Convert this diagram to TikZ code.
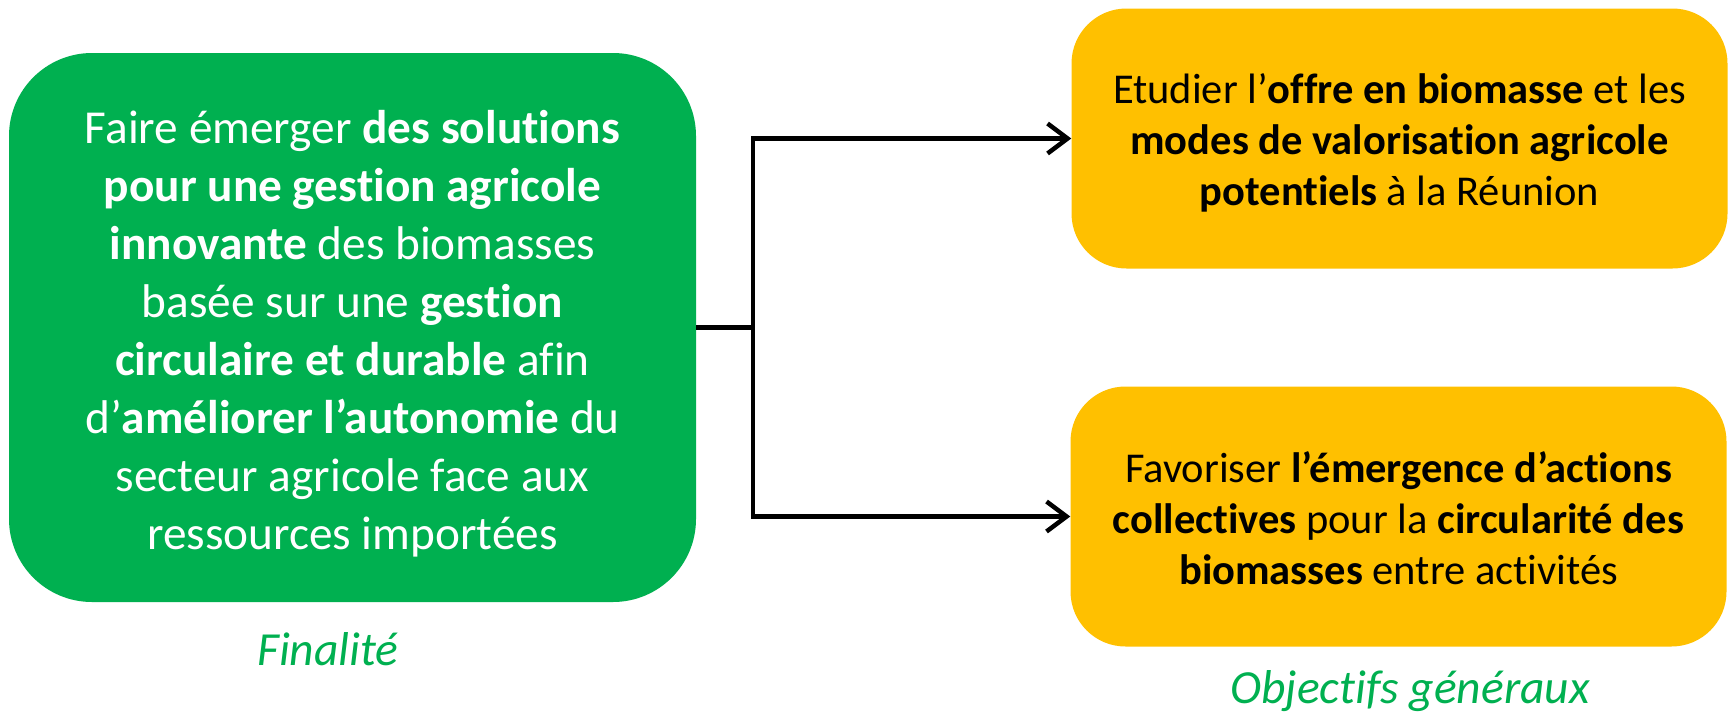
\documentclass[tikz,border=0pt]{standalone}
\usepackage{fontspec}
\setmainfont{Carlito}[Ligatures=NoCommon]
\usetikzlibrary{arrows.meta}
\definecolor{cgreen}{HTML}{00B050}
\definecolor{cyellow}{HTML}{FFC000}
\begin{document}
\begin{tikzpicture}[x=1pt,y=-1pt,
  greenbox/.style={fill=cgreen,rounded corners=83pt,minimum width=687pt,minimum height=549pt,inner sep=0pt},
  gtext/.style={inner sep=0pt,text=white,align=center,font=\fontsize{47.3}{58}\selectfont},
  yellowbox/.style={fill=cyellow,rounded corners=55pt,minimum width=656pt,minimum height=260pt,inner sep=0pt},
  ytext/.style={inner sep=0pt,text=black,align=center,font=\fontsize{42.5}{51}\selectfont},
  conn/.style={line width=4.5pt,line join=miter},
  arr/.style={conn,-{Straight Barb[length=20pt,width=30pt,line width=4.5pt]}},
  lbl/.style={text=cgreen,font=\fontsize{47.5}{52}\selectfont\itshape,anchor=base,inner sep=0pt}
]
\useasboundingbox (0,0) rectangle (1731,712);
\node[greenbox] (g) at (352.5,327.5) {};
\node[gtext] (gt) at ([yshift=-6pt]g.center) {Faire émerger \textbf{des solutions}\\\textbf{pour une gestion agricole}\\\textbf{innovante} des biomasses\\basée sur une \textbf{gestion}\\\textbf{circulaire et durable} afin\\d’\textbf{améliorer l’autonomie} du\\secteur agricole face aux\\ressources importées};
\node[yellowbox] (y1) at (1399.5,138.5) {};
\node[ytext] (y1t) at ([yshift=-4pt]y1.center) {Etudier l’\textbf{offre en biomasse} et les\\\textbf{modes de valorisation agricole}\\\textbf{potentiels} à la Réunion};
\node[yellowbox] (y2) at (1398.5,516.5) {};
\node[ytext] (y2t) at ([yshift=-2pt]y2.center) {Favoriser \textbf{l’émergence d’actions}\\\textbf{collectives} pour la \textbf{circularité des}\\\textbf{biomasses} entre activités};
\node[lbl] (l1) at (328,665) {Finalité};
\node[lbl] (l2) at (1410,703) {Objectifs généraux};
\coordinate (j) at (753,327.5);
\draw[conn] (g.east) -- (j);
\draw[arr] (j) |- (y1.west);
\draw[arr] (j) |- (y2.west);
\end{tikzpicture}
\end{document}
